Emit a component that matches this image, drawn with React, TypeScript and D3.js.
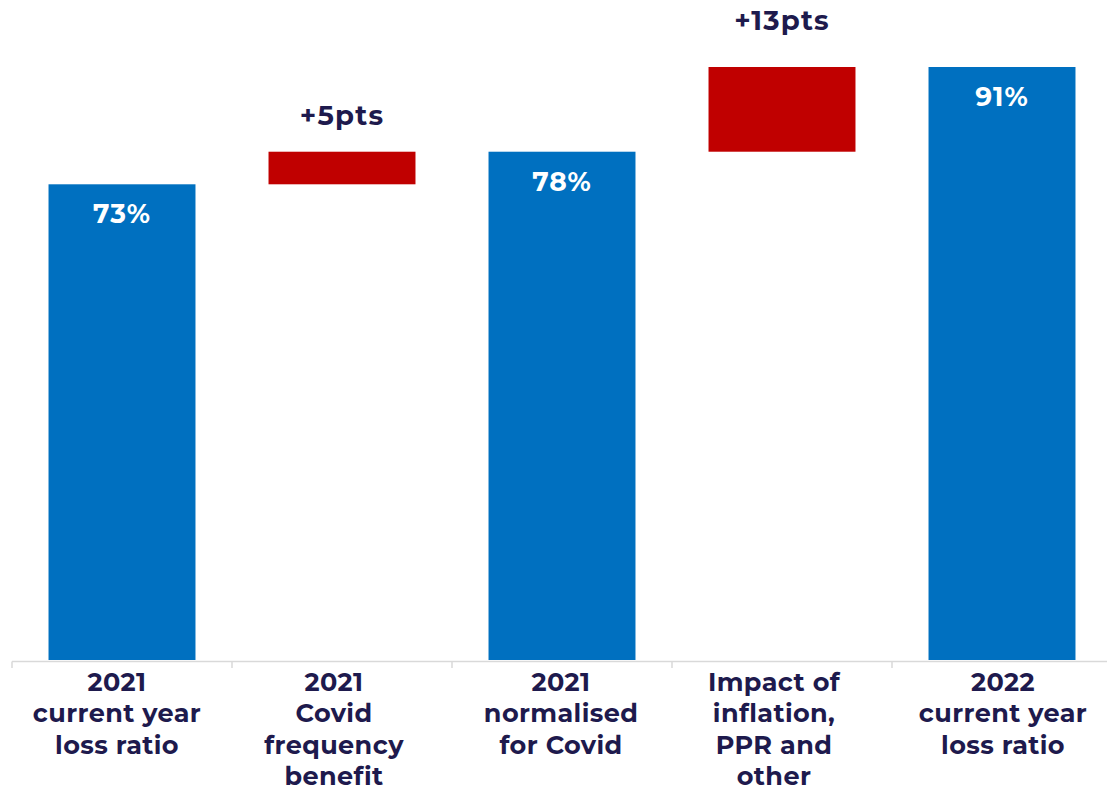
import React from "react";
import * as d3 from "d3";

const categories: string[][] = [
  ["2021", "current year", "loss ratio"],
  ["2021", "Covid", "frequency", "benefit"],
  ["2021", "normalised", "for Covid"],
  ["Impact of", "inflation,", "PPR and", "other"],
  ["2022", "current year", "loss ratio"],
];
const kinds: string[] = ["total", "delta", "total", "delta", "total"];
const values: number[] = [73, 5, 78, 13, 91];
const valueLabels: string[] = ["73%", "+5pts", "78%", "+13pts", "91%"];

const W = 1107;
const H = 788;
const FONT = "Montserrat, 'Open Sans', sans-serif";
const NAVY = "#1E1A4D";
const BLUE = "#0070C0";
const RED = "#C00000";

export default function App() {
  const x = d3
    .scaleBand<number>()
    .domain(d3.range(categories.length))
    .range([12, 1112])
    .paddingInner(0.332)
    .paddingOuter(0.166);
  const y = d3.scaleLinear().domain([0, 91]).range([660, 67]);

  let running = 0;
  const bars = values.map((v, i) => {
    let lo: number, hi: number;
    if (kinds[i] === "total") {
      lo = 0;
      hi = v;
      running = v;
    } else {
      lo = running;
      hi = running + v;
      running = hi;
    }
    return { i, lo, hi, kind: kinds[i] };
  });

  const step = x.step();
  const start = x.range()[0];
  const ticks = d3.range(categories.length + 1).map((k) => start + k * step);
  const deltaLabelOffset = [0, 27, 0, 37, 0];
  const labelShift = [-5, -8, -1, -8, 1];

  return (
    <svg width={W} height={H} style={{ position: "absolute", left: 0, top: 0 }}>
      <rect width={W} height={H} fill="#fff" />
      {bars.map((b) => (
        <rect
          key={b.i}
          x={x(b.i)!}
          y={y(b.hi)}
          width={x.bandwidth()}
          height={y(b.lo) - y(b.hi)}
          fill={b.kind === "total" ? BLUE : RED}
        />
      ))}
      <line x1={start} x2={W} y1={661.5} y2={661.5} stroke="#D9D9D9" strokeWidth={1.5} />
      {ticks.map((t, k) => (
        <line key={k} x1={t} x2={t} y1={661.5} y2={668} stroke="#D9D9D9" strokeWidth={1.5} />
      ))}
      {bars.map((b) => {
        const cx = x(b.i)! + x.bandwidth() / 2;
        if (b.kind === "total") {
          return (
            <text
              key={"v" + b.i}
              x={cx}
              y={y(b.hi) + 39}
              textAnchor="middle"
              fill="#fff"
              fontFamily={FONT}
              fontWeight={700}
              fontSize={26.5}
              letterSpacing={1}
            >
              {valueLabels[b.i]}
            </text>
          );
        }
        return (
          <text
            key={"v" + b.i}
            x={cx}
            y={y(b.hi) - deltaLabelOffset[b.i]}
            textAnchor="middle"
            fill={NAVY}
            fontFamily={FONT}
            fontWeight={700}
            fontSize={27.5}
            letterSpacing={1.2}
          >
            {valueLabels[b.i]}
          </text>
        );
      })}
      {categories.map((lines, i) => {
        const cx = x(i)! + x.bandwidth() / 2 + labelShift[i];
        return (
          <text
            key={"c" + i}
            textAnchor="middle"
            fill={NAVY}
            fontFamily={FONT}
            fontWeight={700}
            fontSize={25.5}
            letterSpacing={0.4}
          >
            {lines.map((l, j) => (
              <tspan key={j} x={cx} y={690.5 + j * 31.6}>
                {l}
              </tspan>
            ))}
          </text>
        );
      })}
    </svg>
  );
}
